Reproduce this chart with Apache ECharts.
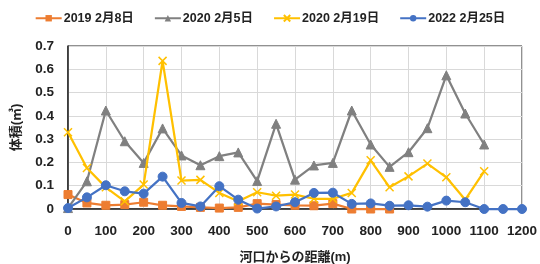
<!DOCTYPE html>
<html><head><meta charset="utf-8">
<script src="https://cdn.jsdelivr.net/npm/echarts@6/dist/echarts.min.js"></script>
<style>html,body{margin:0;padding:0;background:#fff}#c{width:540px;height:264px}</style>
</head><body><div id="c"></div>
<script>
const seriesNames = ['2019 2月8日', '2020 2月5日', '2020 2月19日', '2022 2月25日'];
const xTicks = [0,100,200,300,400,500,600,700,800,900,1000,1100,1200];
const yTicks = [0,0.1,0.2,0.3,0.4,0.5,0.6,0.7];
const dist2019 = [0,50,100,150,200,250,300,350,400,450,500,550,600,650,700,750,800,850];
const vol2019 = [0.062,0.026,0.016,0.019,0.029,0.016,0.011,0.007,0.004,0.007,0.023,0.019,0.016,0.014,0.023,0,0,0];
const dist2020a = [0,50,100,150,200,250,300,350,400,450,500,550,600,650,700,750,800,850,900,950,1000,1050,1100];
const vol2020a = [0.004,0.119,0.423,0.291,0.198,0.346,0.23,0.188,0.227,0.243,0.12,0.366,0.126,0.187,0.198,0.423,0.277,0.181,0.244,0.347,0.574,0.41,0.277];
const dist2020b = [0,50,100,150,200,250,300,350,400,450,500,550,600,650,700,750,800,850,900,950,1000,1050,1100];
const vol2020b = [0.33,0.176,0.093,0.033,0.105,0.636,0.122,0.125,0.069,0.033,0.072,0.057,0.062,0.044,0.044,0.069,0.209,0.093,0.14,0.195,0.136,0.04,0.162];
const dist2022 = [0,50,100,150,200,250,300,350,400,450,500,550,600,650,700,750,800,850,900,950,1000,1050,1100,1150,1200];
const vol2022 = [0.004,0.05,0.102,0.076,0.066,0.139,0.026,0.011,0.098,0.04,0.002,0.011,0.029,0.069,0.07,0.022,0.024,0.014,0.016,0.01,0.036,0.029,0,0,0];

const pair = (xs, ys) => xs.map((x, i) => [x, ys[i]]);
const colors = ['#ED7D31', '#808080', '#FFC000', '#4472C4'];
const symbols = ['rect', 'triangle', 'path://M0,0L10,10M10,0L0,10', 'circle'];
const sizes = [8, 9, 8, 9];
const datas = [pair(dist2019, vol2019), pair(dist2020a, vol2020a), pair(dist2020b, vol2020b), pair(dist2022, vol2022)];
const font = '"Liberation Sans", "Noto Sans CJK JP", sans-serif';

const chart = echarts.init(document.getElementById('c'), null, {renderer: 'canvas'});
chart.setOption({
  animation: false,
  color: colors,
  textStyle: {fontFamily: font},
  legend: {
    top: 7, left: 'center', itemGap: 20, itemWidth: 26, itemHeight: 8,
    textStyle: {fontFamily: font, fontWeight: 'bold', fontSize: 12.5, color: '#222', padding: [0, 0, 0, -3]},
    data: seriesNames
  },
  grid: {left: 68, right: 18, top: 46, bottom: 55, show: true, borderColor: '#222', borderWidth: 1,
    containLabel: false, outerBoundsMode: 'none'},
  xAxis: {
    type: 'value', min: 0, max: 1200, interval: 100,
    name: '河口からの距離(m)', nameLocation: 'middle', nameGap: 42,
    nameTextStyle: {fontFamily: font, fontWeight: 'bold', fontSize: 13, color: '#222'},
    axisLine: {show: true, onZero: false, lineStyle: {color: '#222', width: 1.5}},
    axisTick: {show: false},
    axisLabel: {fontFamily: font, fontWeight: 'bold', fontSize: 13.5, color: '#222', margin: 16,
      formatter: v => xTicks.includes(v) ? String(v) : ''},
    splitLine: {show: true, lineStyle: {color: '#d9d9d9', width: 1}}
  },
  yAxis: {
    type: 'value', min: 0, max: 0.7, interval: 0.1,
    name: '体積(㎥)', nameLocation: 'middle', nameGap: 45, nameRotate: 90,
    nameTextStyle: {fontFamily: font, fontWeight: 'bold', fontSize: 13, color: '#222'},
    axisLine: {show: true, lineStyle: {color: '#222', width: 1.5}},
    axisTick: {show: false},
    axisLabel: {fontFamily: font, fontWeight: 'bold', fontSize: 13.5, color: '#222', margin: 14,
      formatter: v => { const t = yTicks.find(y => Math.abs(y - v) < 1e-9); return t === undefined ? '' : (t === 0 ? '0' : t.toFixed(1)); }},
    splitLine: {show: true, lineStyle: {color: '#d9d9d9', width: 1}}
  },
  series: seriesNames.map((n, i) => ({
    name: n, type: 'line', data: datas[i],
    symbol: symbols[i], symbolSize: sizes[i], showAllSymbol: true,
    lineStyle: {color: colors[i], width: 2.25},
    itemStyle: i === 2 ? {color: 'none', borderColor: colors[i], borderWidth: 1.5} : {color: colors[i], borderColor: colors[i]},
    z: i === 3 ? 5 : 3 + i * 0.1,
    clip: false
  }))
});
</script></body></html>
